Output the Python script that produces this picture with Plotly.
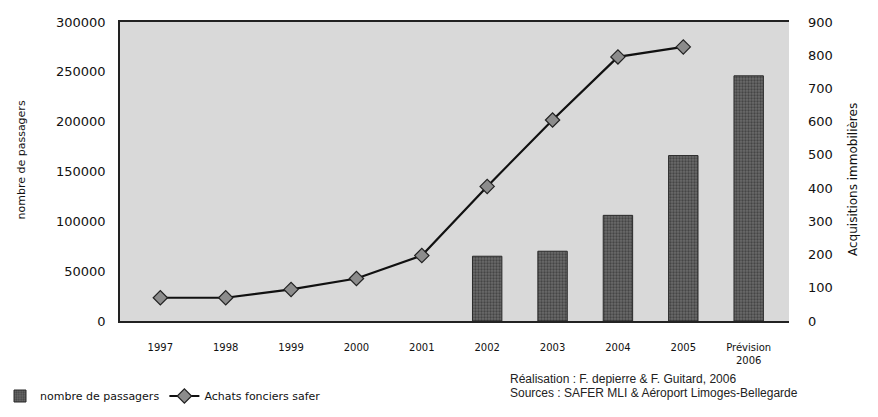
import plotly.graph_objects as go

categories = ["1997", "1998", "1999", "2000", "2001", "2002", "2003", "2004", "2005", "Prévision<br>2006"]
passagers = [None, None, None, None, None, 65000, 70000, 106000, 166000, 246000]
achats_safer = [70, 70, 95, 128, 197, 405, 605, 795, 825, None]

left_ticks = [0, 50000, 100000, 150000, 200000, 250000, 300000]
right_ticks = [0, 100, 200, 300, 400, 500, 600, 700, 800, 900]

W, H = 878, 417
ML, MR, MT, MB = 120, 89, 22, 96
PW, PH = W - ML - MR, H - MT - MB

def px_x(x):
    return (x - ML) / PW

def px_y(y):
    return (H - MB - y) / PH

fig = go.Figure()
fig.add_trace(go.Bar(
    x=categories, y=passagers, name="nombre de passagers",
    marker=dict(color="#5c5c5c", line=dict(color="#2a2a2a", width=1),
                pattern=dict(shape=".", fgcolor="#202020", bgcolor="#6a6a6a", size=3, solidity=0.45)),
    yaxis="y",
))
fig.add_trace(go.Scatter(
    x=categories, y=achats_safer, name="Achats fonciers safer",
    mode="lines+markers",
    line=dict(color="#111111", width=2.2),
    marker=dict(symbol="diamond", size=11, color="#8c8c8c", line=dict(color="#222222", width=1.2)),
    yaxis="y2",
))

tick_font = dict(family="DejaVu Sans", size=13, color="#111111")
fig.update_layout(
    width=W, height=H,
    margin=dict(l=ML, r=MR, t=MT, b=MB, autoexpand=False),
    paper_bgcolor="white",
    plot_bgcolor="#d9d9d9",
    bargap=0.55,
    showlegend=True,
    legend=dict(orientation="h", xref="container", yref="container",
                x=0.0, y=(H - 396) / H, xanchor="left", yanchor="middle",
                font=dict(family="DejaVu Sans", size=11, color="#111111"),
                itemwidth=30, bgcolor="rgba(0,0,0,0)"),
    xaxis=dict(showgrid=False, showline=True, linecolor="#222222", linewidth=1.5, mirror=True,
               ticks="", ticklabelstandoff=16, automargin=False,
               tickfont=dict(family="DejaVu Sans", size=10, color="#111111")),
    yaxis=dict(range=[0, 300000], tickvals=left_ticks, ticktext=[str(v) for v in left_ticks],
               showgrid=False, zeroline=False, showline=True, linecolor="#222222", linewidth=1.5,
               ticks="", ticklabelstandoff=10, tickfont=tick_font, automargin=False),
    yaxis2=dict(range=[0, 900], tickvals=right_ticks, overlaying="y", side="right",
                showgrid=False, zeroline=False, showline=False, automargin=False,
                ticks="", ticklabelstandoff=18, tickfont=tick_font),
    annotations=[
        dict(text="nombre de passagers", textangle=-90, xref="paper", yref="paper",
             x=px_x(12), y=px_y(160), showarrow=False,
             font=dict(family="DejaVu Sans", size=11, color="#111111")),
        dict(text="Acquisitions immobilières", textangle=-90, xref="paper", yref="paper",
             x=px_x(862), y=px_y(180), showarrow=False,
             font=dict(family="DejaVu Sans", size=12, color="#111111")),
        dict(text="Réalisation : F. depierre & F. Guitard, 2006", xref="paper", yref="paper",
             x=px_x(508), y=px_y(379), xanchor="left", yanchor="middle", showarrow=False,
             font=dict(family="Liberation Sans", size=12, color="#222222")),
        dict(text="Sources : SAFER MLI & Aéroport Limoges-Bellegarde", xref="paper", yref="paper",
             x=px_x(508), y=px_y(393), xanchor="left", yanchor="middle", showarrow=False,
             font=dict(family="Liberation Sans", size=12, color="#222222")),
    ],
)

fig.write_html("out.html", config={"displayModeBar": False},
               post_script="document.body.style.margin='0';document.body.style.overflow='hidden';")
